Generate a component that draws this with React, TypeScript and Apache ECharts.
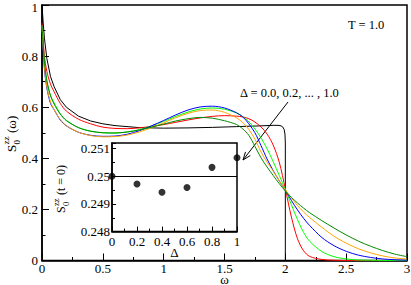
import React, { useEffect, useRef } from 'react';
import * as echarts from 'echarts';

// ω grid shared by the Δ > 0 curves
const omega = [0, 0.02, 0.04, 0.07, 0.1, 0.15, 0.2, 0.3, 0.4, 0.5, 0.6, 0.7, 0.8, 0.9, 1.0, 1.1, 1.2, 1.3, 1.4, 1.5, 1.6, 1.65, 1.7, 1.75, 1.8, 1.85, 1.9, 1.95, 2.0, 2.05, 2.1, 2.15, 2.2, 2.3, 2.4, 2.5, 2.6, 2.7, 2.8, 2.9, 3.0];

const sDelta02 = [0.93, 0.8, 0.74, 0.69, 0.66, 0.615, 0.585, 0.553, 0.535, 0.522, 0.517, 0.516, 0.519, 0.525, 0.532, 0.541, 0.55, 0.558, 0.564, 0.567, 0.565, 0.562, 0.555, 0.542, 0.523, 0.495, 0.452, 0.385, 0.28, 0.17, 0.085, 0.038, 0.016, 0.004, 0.001, 0, 0, 0, 0, 0, 0];
const sDelta04 = [0.92, 0.77, 0.7, 0.645, 0.617, 0.575, 0.548, 0.52, 0.506, 0.5, 0.499, 0.503, 0.512, 0.527, 0.545, 0.564, 0.581, 0.593, 0.597, 0.592, 0.577, 0.563, 0.543, 0.515, 0.48, 0.437, 0.387, 0.333, 0.278, 0.218, 0.16, 0.11, 0.075, 0.035, 0.015, 0.006, 0.002, 0.001, 0, 0, 0];
const sDelta06 = [0.92, 0.75, 0.675, 0.615, 0.59, 0.55, 0.527, 0.502, 0.49, 0.486, 0.487, 0.494, 0.508, 0.527, 0.548, 0.57, 0.589, 0.601, 0.604, 0.597, 0.578, 0.562, 0.535, 0.5, 0.45, 0.397, 0.352, 0.312, 0.275, 0.235, 0.198, 0.165, 0.137, 0.09, 0.058, 0.036, 0.021, 0.012, 0.006, 0.003, 0.001];
const sDelta08 = [0.92, 0.76, 0.68, 0.62, 0.59, 0.552, 0.528, 0.502, 0.489, 0.484, 0.485, 0.491, 0.503, 0.52, 0.539, 0.559, 0.576, 0.587, 0.589, 0.58, 0.558, 0.54, 0.513, 0.475, 0.425, 0.385, 0.35, 0.312, 0.277, 0.245, 0.215, 0.19, 0.168, 0.13, 0.095, 0.068, 0.046, 0.03, 0.018, 0.01, 0.006];
const sDelta10 = [0.92, 0.78, 0.705, 0.645, 0.612, 0.573, 0.548, 0.52, 0.506, 0.5, 0.499, 0.503, 0.511, 0.522, 0.534, 0.546, 0.555, 0.56, 0.557, 0.547, 0.532, 0.515, 0.49, 0.447, 0.402, 0.366, 0.333, 0.301, 0.272, 0.247, 0.225, 0.205, 0.187, 0.156, 0.127, 0.1, 0.076, 0.056, 0.039, 0.025, 0.015];

// Δ = 0 (free) curve
const omegaDelta00 = [0, 0.01, 0.02, 0.04, 0.07, 0.1, 0.15, 0.2, 0.3, 0.4, 0.5, 0.6, 0.8, 1.0, 1.2, 1.4, 1.6, 1.8, 1.9, 1.94, 1.965, 1.98, 1.99, 1.997, 2.0, 2.0, 3.0];
const sDelta00 = [1.0, 0.93, 0.87, 0.79, 0.72, 0.68, 0.63, 0.6, 0.565, 0.546, 0.535, 0.528, 0.52, 0.518, 0.519, 0.521, 0.524, 0.527, 0.529, 0.529, 0.527, 0.522, 0.513, 0.495, 0.46, 0, 0];

// inset: S0zz(t=0) vs Δ
const deltaVals = [0, 0.2, 0.4, 0.6, 0.8, 1.0];
const s0Vals = [0.25, 0.24972, 0.24942, 0.24959, 0.25032, 0.25067];

const curveColors = ['#000000', '#ff0000', '#00ff00', '#0000ff', '#ffa500', '#008b00'];
const serif = 'Liberation Serif';

export default function App() {
  const ref = useRef<HTMLDivElement>(null);
  useEffect(() => {
    document.body.style.margin = '0';
    const chart = echarts.init(ref.current!, null, { renderer: 'svg' });
    const pair = (xs: number[], ys: number[]) => xs.map((x, i) => [x, ys[i]]);
    const line = (name: string, xs: number[], ys: number[], color: string, smooth: number | boolean) => ({
      type: 'line', name, xAxisIndex: 0, yAxisIndex: 0, data: pair(xs, ys),
      showSymbol: false, symbol: 'none', smooth, lineStyle: { color, width: 1 }, silent: true, z: 3,
    });
    const tickStyle = { color: '#000', width: 1 };
    const lbl = (size: number, margin: number) => ({ color: '#000', fontFamily: serif, fontSize: size, margin });
    const txt = (text: string, size: number) => ({ text, fontFamily: serif, fontSize: size, fill: '#000', verticalAlign: 'middle', align: 'left' });
    const option: any = {
      animation: false,
      textStyle: { fontFamily: serif },
      grid: [
        { left: 42, top: 5, width: 365, height: 255.5, show: true, borderColor: '#000', borderWidth: 1.5, backgroundColor: 'transparent', containLabel: false, outerBoundsMode: 'none' },
        { left: 112, top: 143, width: 125, height: 88.6, show: true, borderColor: '#000', borderWidth: 1.5, backgroundColor: '#fff', containLabel: false, outerBoundsMode: 'none' },
      ],
      xAxis: [
        {
          type: 'value', gridIndex: 0, min: 0, max: 3, interval: 0.5,
          axisLine: { onZero: false, lineStyle: { color: '#000', width: 1.5 } },
          axisTick: { inside: true, length: 7, lineStyle: tickStyle },
          minorTick: { show: true, splitNumber: 2, length: 3.5, lineStyle: tickStyle },
          splitLine: { show: false },
          axisLabel: { ...lbl(13, 2), lineHeight: 11 },
          name: 'ω', nameLocation: 'middle', nameGap: 13.5, nameMoveOverlap: false,
          nameTextStyle: { color: '#000', fontFamily: serif, fontSize: 13, lineHeight: 10 },
        },
        {
          type: 'value', gridIndex: 1, min: 0, max: 1, interval: 0.2,
          axisLine: { onZero: false, lineStyle: { color: '#000', width: 1.5 } },
          axisTick: { inside: true, length: 5, lineStyle: tickStyle },
          minorTick: { show: true, splitNumber: 2, length: 3, lineStyle: tickStyle },
          splitLine: { show: false },
          axisLabel: lbl(13, 3),
          name: 'Δ', nameLocation: 'middle', nameGap: 14.5, nameMoveOverlap: false,
          nameTextStyle: { color: '#000', fontFamily: serif, fontSize: 13 },
        },
      ],
      yAxis: [
        {
          type: 'value', gridIndex: 0, min: 0, max: 1, interval: 0.2,
          axisLine: { onZero: false, lineStyle: { color: '#000', width: 1.5 } },
          axisTick: { inside: true, length: 7, lineStyle: tickStyle },
          minorTick: { show: true, splitNumber: 2, length: 3.5, lineStyle: tickStyle },
          splitLine: { show: false },
          axisLabel: { ...lbl(13, 4), showMaxLabel: false },
        },
        {
          type: 'value', gridIndex: 1, min: 0.248, max: 0.2512, interval: 0.001,
          axisLine: { onZero: false, lineStyle: { color: '#000', width: 1.5 } },
          axisTick: { inside: true, length: 4, lineStyle: tickStyle },
          minorTick: { show: true, splitNumber: 2, length: 3, lineStyle: tickStyle },
          splitLine: { show: false },
          axisLabel: { ...lbl(13, 2), showMaxLabel: false },
        },
      ],
      series: [
        line('Δ=0.0', omegaDelta00, sDelta00, curveColors[0], false),
        line('Δ=0.2', omega, sDelta02, curveColors[1], 0.3),
        line('Δ=0.4', omega, sDelta04, curveColors[2], 0.3),
        line('Δ=0.6', omega, sDelta06, curveColors[3], 0.3),
        line('Δ=0.8', omega, sDelta08, curveColors[4], 0.3),
        line('Δ=1.0', omega, sDelta10, curveColors[5], 0.3),
        {
          type: 'scatter', xAxisIndex: 1, yAxisIndex: 1, data: pair(deltaVals, s0Vals),
          symbol: 'circle', symbolSize: 7, itemStyle: { color: '#000' }, clip: false, z: 5,
          markLine: {
            silent: true, symbol: 'none', label: { show: false },
            lineStyle: { color: '#000', width: 1, type: 'solid' },
            data: [{ yAxis: 0.25 }],
          },
        },
      ],
      graphic: [
        { type: 'text', x: 38, y: 7.5, style: { text: '1', fontFamily: serif, fontSize: 13, fill: '#000', align: 'right', verticalAlign: 'middle' } },
        { type: 'text', left: 348, top: 18, style: { text: 'T = 1.0', fontFamily: serif, fontSize: 12.5, fill: '#000' } },
        { type: 'text', left: 240, top: 86, style: { text: 'Δ = 0.0, 0.2, ... , 1.0', fontFamily: serif, fontSize: 12.5, fill: '#000' } },
        { type: 'line', shape: { x1: 288, y1: 102, x2: 243, y2: 160 }, style: { stroke: '#000', lineWidth: 1 } },
        { type: 'polyline', shape: { points: [[250.3, 155.5], [243, 160], [245.5, 151.9]] }, style: { stroke: '#000', lineWidth: 1, fill: null } },
        {
          type: 'group', x: 11, y: 132, rotation: Math.PI / 2,
          children: [
            { type: 'text', x: -20, y: 0, style: txt('S', 13) },
            { type: 'text', x: -12.5, y: -5, style: txt('zz', 9) },
            { type: 'text', x: -12.5, y: 5.5, style: txt('0', 9) },
            { type: 'text', x: -1, y: 0, style: txt('(ω)', 13) },
          ],
        },
        {
          type: 'group', x: 61, y: 188, rotation: Math.PI / 2,
          children: [
            { type: 'text', x: -25, y: 0, style: txt('S', 12) },
            { type: 'text', x: -18, y: -5, style: txt('zz', 8.5) },
            { type: 'text', x: -18, y: 5, style: txt('0', 8.5) },
            { type: 'text', x: -7, y: 0, style: txt('(t = 0)', 12) },
          ],
        },
      ],
    };
    chart.setOption(option);
    return () => chart.dispose();
  }, []);
  return <div ref={ref} style={{ position: 'absolute', left: 0, top: 0, width: 411, height: 285, background: '#fff' }} />;
}
